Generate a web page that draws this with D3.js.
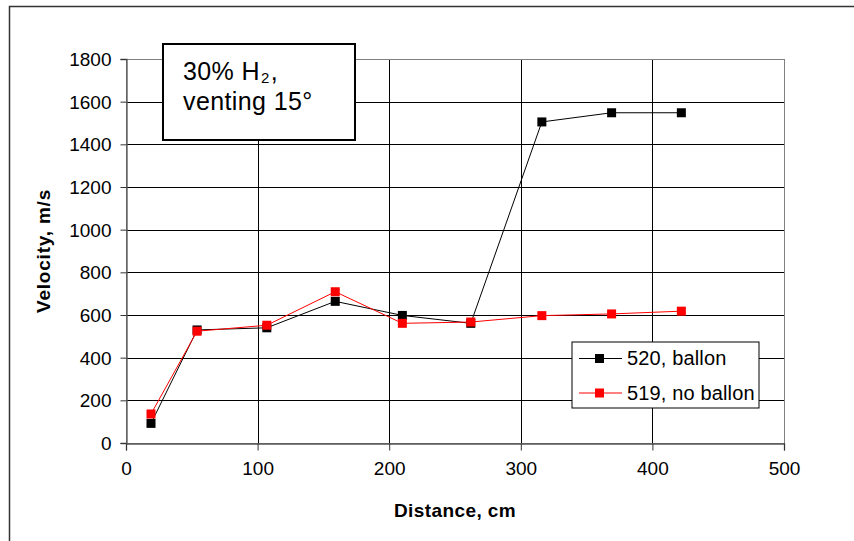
<!DOCTYPE html>
<html><head><meta charset="utf-8">
<script src="https://cdn.jsdelivr.net/npm/d3@7"></script>
<style>body{margin:0;background:#fff}svg{display:block}text{font-family:"Liberation Sans",Arial,sans-serif}</style>
</head><body><svg id="c" width="854" height="541"></svg>
<script>
const distances = [19, 54, 107, 159, 210, 262, 316, 369, 422];
const ballon = [92, 530, 540, 664, 598, 561, 1505, 1548, 1548];
const noBallon = [136, 524, 552, 709, 561, 567, 597, 605, 618];
const xTicks = [0, 100, 200, 300, 400, 500];
const yTicks = [0, 200, 400, 600, 800, 1000, 1200, 1400, 1600, 1800];
const seriesNames = ["520, ballon", "519, no ballon"];
const seriesColors = ["#000000", "#ff0000"];

const svg = d3.select("#c");
const x = d3.scaleLinear().domain([0, 500]).range([126, 784]);
const y = d3.scaleLinear().domain([0, 1800]).range([443, 59]);

// outer border
svg.append("rect").attr("x", 9.5).attr("y", 6.5).attr("width", 860).attr("height", 560)
  .attr("fill", "none").attr("stroke", "#333").attr("stroke-width", 1.5);

// gridlines
svg.append("g").selectAll("line").data(yTicks.slice(1)).join("line")
  .attr("x1", x(0)).attr("x2", x(500)).attr("y1", d => Math.round(y(d)) + 0.5).attr("y2", d => Math.round(y(d)) + 0.5)
  .attr("stroke", "#000").attr("stroke-width", 1);
svg.append("g").selectAll("line").data(xTicks.slice(1)).join("line")
  .attr("y1", y(0)).attr("y2", y(1800)).attr("x1", d => Math.round(x(d)) + 0.5).attr("x2", d => Math.round(x(d)) + 0.5)
  .attr("stroke", "#000").attr("stroke-width", 1);
// plot border right/top gray
svg.append("rect").attr("x", x(0) + 0.5).attr("y", Math.round(y(1800)) + 0.5)
  .attr("width", x(500) - x(0)).attr("height", y(0) - y(1800))
  .attr("fill", "none").attr("stroke", "#808080").attr("stroke-width", 1);

// axes
const fmt = d3.format("d");
const xAxis = d3.axisBottom(x).tickValues(xTicks).tickFormat(fmt).tickSize(7).tickPadding(8);
const gx = svg.append("g").attr("transform", `translate(0,${Math.round(y(0)) + 0.5})`).call(xAxis);
const yAxis = d3.axisLeft(y).tickValues(yTicks).tickFormat(fmt).tickSize(6).tickPadding(9);
const gy = svg.append("g").attr("transform", `translate(${Math.round(x(0)) + 0.5},0)`).call(yAxis);
[gx, gy].forEach(g => {
  g.select(".domain").attr("stroke", "#555").attr("stroke-width", 1.3);
  g.selectAll(".tick line").attr("stroke", "#333");
  g.selectAll(".tick text").attr("font-size", 19).attr("fill", "#000")
    .style("font-family", '"Liberation Sans",Arial,sans-serif');
});
gx.selectAll(".tick text").attr("dy", "0.85em");
gy.selectAll(".tick text").attr("dy", "0.34em");

// axis titles
svg.append("text").attr("x", 455).attr("y", 517).attr("text-anchor", "middle")
  .attr("font-size", 19).attr("font-weight", "bold").attr("letter-spacing", 0.4).text("Distance, cm");
svg.append("text").attr("transform", "translate(50,251) rotate(-90)").attr("text-anchor", "middle")
  .attr("font-size", 19).attr("font-weight", "bold").attr("letter-spacing", 0.8).text("Velocity, m/s");

// series
const allSeries = [ballon, noBallon];
const line = d3.line().x(d => x(d[0])).y(d => y(d[1]));
allSeries.forEach((vals, i) => {
  const pts = distances.map((d, j) => [d, vals[j]]);
  svg.append("path").datum(pts).attr("d", line).attr("fill", "none")
    .attr("stroke", seriesColors[i]).attr("stroke-width", 1);
  svg.append("g").selectAll("rect").data(pts).join("rect")
    .attr("x", d => x(d[0]) - 4.5).attr("y", d => y(d[1]) - 4.5).attr("width", 9).attr("height", 9)
    .attr("fill", seriesColors[i]);
});

// annotation box
svg.append("rect").attr("x", 163).attr("y", 44).attr("width", 192).attr("height", 96)
  .attr("fill", "#fff").attr("stroke", "#000").attr("stroke-width", 2);
const t1 = svg.append("text").attr("x", 183).attr("y", 80).attr("font-size", 25).attr("letter-spacing", 0.4);
t1.append("tspan").text("30% H");
t1.append("tspan").attr("font-size", 15).attr("dx", 1).attr("baseline-shift", "-3").text("2");
t1.append("tspan").attr("dx", 1).text(",");
svg.append("text").attr("x", 183).attr("y", 110).attr("font-size", 25).attr("letter-spacing", 0.4).text("venting 15°");

// legend
const lg = svg.append("g");
lg.append("rect").attr("x", 572).attr("y", 342).attr("width", 187).attr("height", 66)
  .attr("fill", "#fff").attr("stroke", "#000").attr("stroke-width", 1);
seriesNames.forEach((n, i) => {
  const yy = 358 + i * 34.5;
  lg.append("line").attr("x1", 579).attr("x2", 622).attr("y1", yy + 0.5).attr("y2", yy + 0.5)
    .attr("stroke", seriesColors[i]).attr("stroke-width", 1);
  lg.append("rect").attr("x", 595).attr("y", yy - 4).attr("width", 9).attr("height", 9).attr("fill", seriesColors[i]);
  lg.append("text").attr("x", 627).attr("y", yy + 7).attr("font-size", 20).attr("letter-spacing", 0.15).text(n);
});
</script></body></html>
